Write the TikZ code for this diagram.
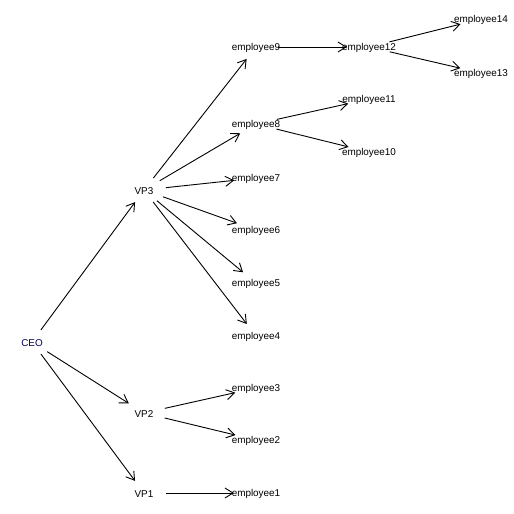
\documentclass[tikz,border=0pt]{standalone}
\usepackage{fontspec}
\setmainfont{Liberation Sans}
\usetikzlibrary{arrows.meta,shapes.geometric}
\begin{document}
\begin{tikzpicture}[x=1pt,y=-1pt,
  vert/.style={shape=ellipse,minimum width=44pt,minimum height=26pt,inner sep=0pt,draw=none,
    label={[font=\fontsize{9.9}{11}\selectfont,inner sep=0pt,text=black,yshift=-0.8pt]center:#1}},
  rootv/.style={shape=ellipse,minimum width=44pt,minimum height=26pt,inner sep=0pt,draw=none,
    label={[font=\fontsize{9.9}{11}\selectfont,inner sep=0pt,text=blue!35!black,yshift=-0.8pt]center:#1}},
  edge/.style={draw=black,line width=0.9pt,-{Straight Barb[length=8pt,width=10pt,line width=0.9pt]}}]
\useasboundingbox[fill=white] (0,0) rectangle (514,514);
\node[rootv=CEO] (ceo) at (32,342) {};
\node[vert=VP3] (vp3) at (144,190) {};
\node[vert=VP2] (vp2) at (144,413) {};
\node[vert=VP1] (vp1) at (144,493) {};
\node[vert=employee9] (e9) at (256,47) {};
\node[vert=employee8] (e8) at (256,124) {};
\node[vert=employee7] (e7) at (256,178) {};
\node[vert=employee6] (e6) at (256,230) {};
\node[vert=employee5] (e5) at (256,283) {};
\node[vert=employee4] (e4) at (256,336) {};
\node[vert=employee3] (e3) at (256,388) {};
\node[vert=employee2] (e2) at (256,440) {};
\node[vert=employee1] (e1) at (256,493) {};
\node[vert=employee12] (e12) at (369,47) {};
\node[vert=employee11] (e11) at (369,99) {};
\node[vert=employee10] (e10) at (369,152) {};
\node[vert=employee14] (e14) at (481,19) {};
\node[vert=employee13] (e13) at (481,73) {};
\draw[edge] (ceo) -- (vp3);
\draw[edge] (ceo) -- (vp2);
\draw[edge] (ceo) -- (vp1);
\draw[edge] (vp3) -- (e9);
\draw[edge] (vp3) -- (e8);
\draw[edge] (vp3) -- (e7);
\draw[edge] (vp3) -- (e6);
\draw[edge] (vp3) -- (e5);
\draw[edge] (vp3) -- (e4);
\draw[edge] (vp2) -- (e3);
\draw[edge] (vp2) -- (e2);
\draw[edge] (vp1) -- (e1);
\draw[edge] (e9) -- (e12);
\draw[edge] (e8) -- (e11);
\draw[edge] (e8) -- (e10);
\draw[edge] (e12) -- (e14);
\draw[edge] (e12) -- (e13);
\end{tikzpicture}
\end{document}
